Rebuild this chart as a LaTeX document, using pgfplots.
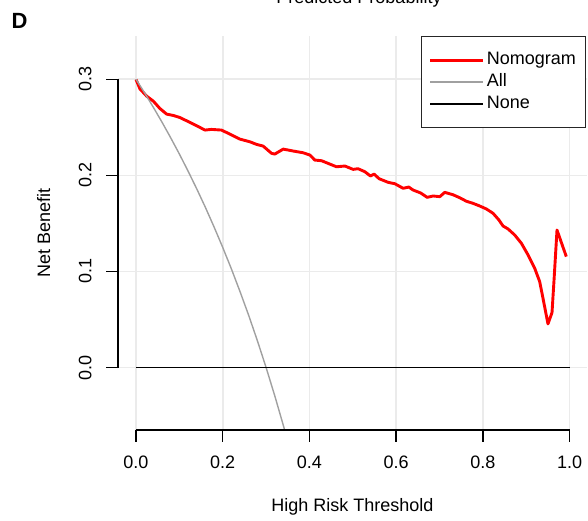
\documentclass[border=0pt]{standalone}
\usepackage{fontspec}
\setmainfont{Liberation Sans}
\usepackage{pgfplots}
\pgfplotsset{compat=1.18}
\definecolor{gridc}{RGB}{235,235,235}
\definecolor{allc}{RGB}{160,160,160}
\begin{document}
\begin{tikzpicture}[x=1pt,y=1pt]
\clip (0,0) rectangle (588,521);
\node[anchor=base west,font=\fontsize{22}{24}\selectfont\bfseries] at (8,492) {D};
\node[anchor=base,font=\fontsize{18}{20}\selectfont] at (359,517) {Predicted Probability};
\begin{axis}[
  at={(118pt,91pt)}, anchor=south west,
  scale only axis, width=469pt, height=394pt,
  xmin=-0.0415, xmax=1.04, ymin=-0.065, ymax=0.345,
  clip=false,
  axis line style={draw=none},
  xtick={0,0.2,0.4,0.6,0.8,1.0},
  ytick={0,0.1,0.2,0.3},
  xticklabels={0.0,0.2,0.4,0.6,0.8,1.0},
  yticklabels={0.0,0.1,0.2,0.3},
  tick pos=left, tick align=outside,
  major tick length=12pt,
  tick style={black, line width=1.4pt},
  grid=major, major grid style={gridc, line width=1.6pt},
  ticklabel style={font=\fontsize{18}{20}\selectfont},
  yticklabel style={rotate=90, anchor=south, yshift=11pt},
  xticklabel style={yshift=-10pt},
  xlabel={High Risk Threshold}, ylabel={Net Benefit},
  label style={font=\fontsize{18}{20}\selectfont},
  xlabel style={at={(axis description cs:0.5,0)}, anchor=base, yshift=-82pt},
  ylabel style={at={(axis description cs:0,0.5)}, anchor=base, rotate=0, yshift=68pt},
  legend style={at={(rel axis cs:0.998,1)}, anchor=north east,
    draw=black!85, line width=1.3pt, fill=white,
    inner xsep=7.5pt, inner ysep=13pt,
    font=\fontsize{18}{20}\selectfont,
    nodes={inner sep=2pt, text height=13pt, text depth=4.7pt},
    legend cell align=left},
  legend image code/.code={\draw[#1] (5.5pt,0pt) -- (40.5pt,0pt); \path (0pt,0pt) -- (53pt,0pt);},
]
\addplot[red, line width=2.9pt, line join=round] coordinates {
(0.000,0.2998) (0.009,0.2900) (0.0246,0.2824) (0.040,0.2772) (0.055,0.2696)
(0.0707,0.2637) (0.086,0.2623) (0.101,0.2602) (0.117,0.2567) (0.140,0.2516)
(0.159,0.2471) (0.174,0.2478) (0.197,0.2471) (0.2166,0.2429) (0.2396,0.2377)
(0.2627,0.2349) (0.278,0.2322) (0.293,0.2305) (0.3126,0.2229) (0.320,0.2221)
(0.3395,0.2273) (0.3625,0.2253) (0.3855,0.2235) (0.401,0.2211) (0.4124,0.2159)
(0.428,0.2152) (0.447,0.2117) (0.4624,0.2089) (0.4816,0.2097) (0.5007,0.2062)
(0.512,0.2069) (0.5276,0.2038) (0.5407,0.1993) (0.549,0.2013) (0.5606,0.1965)
(0.5814,0.1927) (0.5968,0.1913) (0.616,0.1865) (0.629,0.1878) (0.639,0.1847)
(0.6567,0.1816) (0.6713,0.1771) (0.685,0.1785) (0.7005,0.1778) (0.712,0.1823)
(0.731,0.1798) (0.7465,0.1767) (0.762,0.1730) (0.777,0.1709) (0.7926,0.1681)
(0.808,0.1650) (0.8233,0.1605) (0.837,0.1535) (0.8463,0.1473) (0.858,0.1442)
(0.8733,0.1379) (0.8887,0.1293) (0.904,0.1172) (0.9194,0.1033) (0.9309,0.0894)
(0.940,0.0686) (0.950,0.0454) (0.9593,0.0572) (0.964,0.0912) (0.9708,0.1431)
(0.9923,0.1154)
};
\addlegendentry{Nomogram}
\addplot[allc, line width=1.4pt] coordinates {
(0.00,0.3000) (0.02,0.2857) (0.04,0.2708) (0.06,0.2553) (0.08,0.2391)
(0.10,0.2222) (0.12,0.2045) (0.14,0.1860) (0.16,0.1667) (0.18,0.1463)
(0.20,0.1250) (0.22,0.1026) (0.24,0.0789) (0.26,0.0541) (0.28,0.0278)
(0.30,0.0000) (0.32,-0.0294) (0.34,-0.0606) (0.3427,-0.0650)
};
\addlegendentry{All}
\addplot[black, line width=1.5pt] coordinates {(0,0) (1,0)};
\addlegendentry{None}
\draw[black, line width=1.4pt] (axis cs:0,-0.065) -- (axis cs:1,-0.065);
\end{axis}
\draw[black, line width=1.4pt] (118,152.9) -- (118,441.8);
\end{tikzpicture}
\end{document}
